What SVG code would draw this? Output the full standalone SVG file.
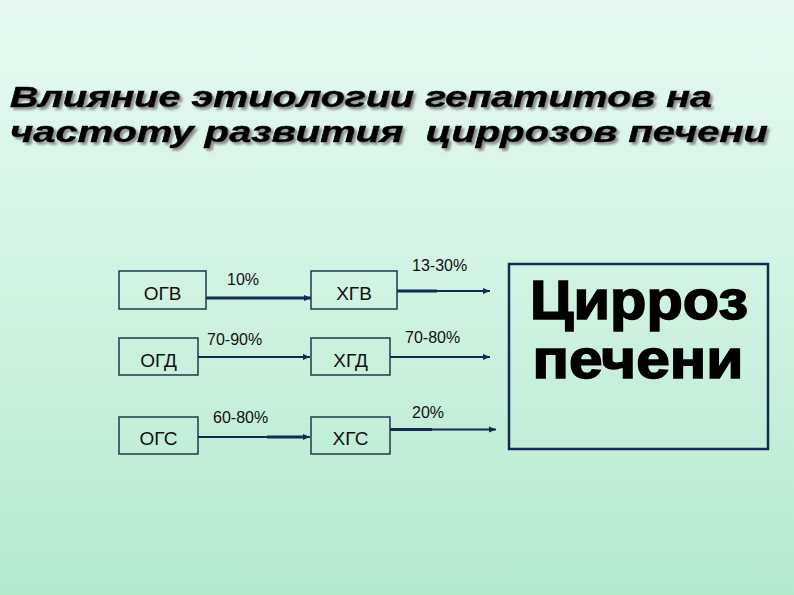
<svg xmlns="http://www.w3.org/2000/svg" width="794" height="595" viewBox="0 0 794 595">
  <defs>
    <linearGradient id="bg" x1="0" y1="0" x2="0" y2="1">
      <stop offset="0" stop-color="#e7f9f2"/>
      <stop offset="0.45" stop-color="#d2f3e3"/>
      <stop offset="1" stop-color="#b3ebcf"/>
    </linearGradient>
    <filter id="shadow" x="-5%" y="-20%" width="110%" height="150%">
      <feDropShadow dx="2.5" dy="2.5" stdDeviation="1.2" flood-color="#7a7a7a" flood-opacity="0.85"/>
    </filter>
    <marker id="ah" markerUnits="userSpaceOnUse" markerWidth="8" markerHeight="8" refX="7" refY="4" orient="auto">
      <path d="M0,1 L7,4 L0,7 Z" fill="#132a52"/>
    </marker>
  </defs>
  <style>
    .title { font-family: "Liberation Sans", Arial, sans-serif; font-size: 29px; font-weight: bold; font-style: italic; fill: #000; stroke: #000; stroke-width: 0.6; }
    .box { fill: none; stroke: #1e3a4a; stroke-width: 1.5; }
    .big { fill: none; stroke: #132a52; stroke-width: 2.5; }
    .nt { font-family: "Liberation Sans", Arial, sans-serif; font-size: 19px; fill: #111; text-anchor: middle; }
    .lbl { font-family: "Liberation Sans", Arial, sans-serif; font-size: 16px; fill: #111; }
    .bigt { font-family: "Liberation Sans", Arial, sans-serif; font-size: 55px; font-weight: bold; fill: #000; stroke: #000; stroke-width: 1.6; text-anchor: middle; }
    .cn { stroke: #132a52; stroke-width: 2; fill: none; }
    .thick { stroke: #132a52; stroke-width: 3; fill: none; }
  </style>
  <rect x="0" y="0" width="794" height="595" fill="url(#bg)"/>

  <g id="title" filter="url(#shadow)">
    <text class="title" x="10" y="107" textLength="702" lengthAdjust="spacingAndGlyphs">Влияние этиологии гепатитов на</text>
    <text class="title" x="10" y="142" textLength="758" lengthAdjust="spacingAndGlyphs" xml:space="preserve">частоту развития  циррозов печени</text>
  </g>

  <g id="connectors">
    <line class="thick" x1="206" y1="298" x2="311" y2="298" marker-end="url(#ah)"/>
    <line class="cn" x1="198" y1="357" x2="310" y2="357" marker-end="url(#ah)"/>
    <line class="cn" x1="198" y1="437" x2="310" y2="437" marker-end="url(#ah)"/>
    <line class="thick" x1="267" y1="437" x2="306" y2="437"/>
    <line class="cn" x1="397" y1="291" x2="490" y2="291" marker-end="url(#ah)"/>
    <line class="thick" x1="397" y1="291" x2="437" y2="291"/>
    <line class="cn" x1="390" y1="357" x2="490" y2="357" marker-end="url(#ah)"/>
    <line class="cn" x1="390" y1="429.5" x2="496" y2="429.5" marker-end="url(#ah)"/>
    <line class="thick" x1="390" y1="429.5" x2="432" y2="429.5"/>
    <text class="lbl" x="227" y="285">10%</text>
    <text class="lbl" x="207" y="345">70-90%</text>
    <text class="lbl" x="213" y="423">60-80%</text>
    <text class="lbl" x="412" y="271">13-30%</text>
    <text class="lbl" x="405" y="343">70-80%</text>
    <text class="lbl" x="412" y="418">20%</text>
  </g>

  <g id="ogv">
    <rect class="box" x="119" y="271" width="87" height="38"/>
    <text class="nt" x="162.5" y="300">ОГВ</text>
  </g>
  <g id="ogd">
    <rect class="box" x="119" y="338" width="79" height="37"/>
    <text class="nt" x="158.5" y="367">ОГД</text>
  </g>
  <g id="ogs">
    <rect class="box" x="119" y="417" width="79" height="37"/>
    <text class="nt" x="158.5" y="445">ОГС</text>
  </g>
  <g id="hgv">
    <rect class="box" x="311" y="271" width="86" height="38"/>
    <text class="nt" x="354" y="300">ХГВ</text>
  </g>
  <g id="hgd">
    <rect class="box" x="311" y="338" width="79" height="37"/>
    <text class="nt" x="350.5" y="367">ХГД</text>
  </g>
  <g id="hgs">
    <rect class="box" x="311" y="417" width="79" height="37"/>
    <text class="nt" x="350.5" y="445">ХГС</text>
  </g>
  <g id="cirrhosis">
    <rect class="big" x="509" y="264" width="259" height="185"/>
    <text class="bigt" x="639" y="319" textLength="218" lengthAdjust="spacingAndGlyphs">Цирроз</text>
    <text class="bigt" x="638" y="378" textLength="211" lengthAdjust="spacingAndGlyphs">печени</text>
  </g>
</svg>
